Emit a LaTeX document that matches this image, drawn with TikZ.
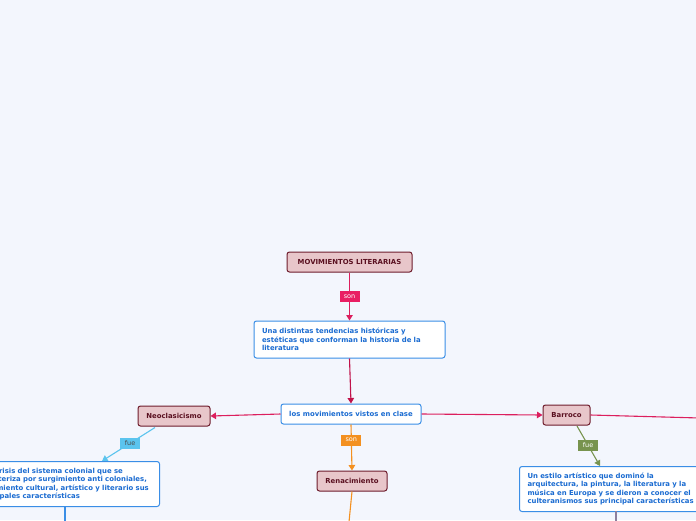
\documentclass[tikz,border=0pt]{standalone}
\usepackage{fontspec}
\setmainfont{DejaVu Sans}
\usetikzlibrary{arrows.meta}
\definecolor{bg}{HTML}{F3F6FD}
\definecolor{pinkfill}{HTML}{E8C6CA}
\definecolor{pinkdraw}{HTML}{6E1C2C}
\definecolor{pinktext}{HTML}{5A1020}
\definecolor{bluedraw}{HTML}{3A8EE6}
\definecolor{bluetext}{HTML}{1A6BD1}
\definecolor{crim}{HTML}{DC1F5E}
\definecolor{crimdark}{HTML}{C0124A}
\definecolor{sonpink}{HTML}{E91E63}
\definecolor{orng}{HTML}{F39020}
\definecolor{lblue}{HTML}{5BC4EE}
\definecolor{grn}{HTML}{77934E}
\definecolor{purp}{HTML}{8C7F9E}
\begin{document}
\begin{tikzpicture}[x=1pt,y=-1pt,
  every node/.style={font=\fontsize{6.9}{8.4}\selectfont\bfseries},
  pinkbox/.style={draw=pinkdraw,fill=pinkfill,text=pinktext,rounded corners=2.5pt,line width=1pt,minimum height=20pt,inner sep=0pt},
  bluebox/.style={draw=bluedraw,fill=white,text=bluetext,rounded corners=2.5pt,line width=1pt,inner sep=0pt},
  desc/.style={bluebox,align=left,inner xsep=8pt,inner ysep=0pt,anchor=north west},
  lab/.style={fill=#1,text=white,inner xsep=2.5pt,inner ysep=1.5pt,minimum height=11pt,minimum width=20pt,font=\fontsize{6.5}{7}\selectfont},
  conn/.style={line width=1.1pt,-{Triangle[length=5.5pt,width=6.5pt]}},
]
\useasboundingbox (0,0) rectangle (696,520);
\clip (0,0) rectangle (696,520);
\fill[bg] (0,0) rectangle (696,520);

\node[pinkbox,minimum width=125pt] (mov) at (349.5,262) {MOVIMIENTOS LITERARIAS};
\node[bluebox,minimum width=191pt,minimum height=37pt,align=left,text width=175pt] (def) at (349.5,339.5)
  {Una distintas tendencias históricas y\\estéticas que conforman la historia de la\\literatura};
\node[bluebox,minimum width=140pt,minimum height=20pt] (vis) at (351,414) {los movimientos vistos en clase};
\node[pinkbox,minimum width=72pt] (neo) at (174,416) {Neoclasicismo};
\node[pinkbox,minimum width=47pt] (bar) at (566.5,415) {Barroco};
\node[pinkbox,minimum width=70pt] (ren) at (352,481) {Renacimiento};

\node[desc,text width=174pt,minimum width=190pt,minimum height=45pt,anchor=north east] (neod) at (160,461)
  {Una crisis del sistema colonial que se\\caracteriza por surgimiento anti coloniales,\\movimiento cultural, artístico y literario sus\\principales características};
\node[desc,text width=190pt,minimum width=206pt,minimum height=45pt] (bard) at (519,466)
  {Un estilo artístico que dominó la\\arquitectura, la pintura, la literatura y la\\música en Europa y se dieron a conocer el\\culteranismos sus principal características};

\coordinate (offr) at (700,418);
\coordinate (renb) at (349,522);
\coordinate (neob) at (65,522);
\coordinate (barb) at (616,522);

\draw[conn,crim] (mov.south) -- node[lab=sonpink]{son} (def.north);
\draw[conn,crimdark] (def.south) -- (vis.north);
\draw[conn,crim] (vis.west) -- (neo.east);
\draw[conn,crim] (vis.east) -- (bar.west);
\draw[crim,line width=1.1pt] (bar.east) -- (offr);
\draw[conn,orng] (vis.south) -- node[lab=orng,pos=0.34]{son} (ren.north);
\draw[orng,line width=1.1pt] (ren.south) -- (renb);
\draw[conn,lblue] (neo.south) ++(-19,1) coordinate (neos) -- node[lab=lblue,text=black!70,pos=0.47]{fue} (102,461) coordinate (neot);
\draw[conn,grn] (577,426) coordinate (bars) -- node[lab=grn,pos=0.48]{fue} (600,466) coordinate (bart);
\draw[bluedraw,line width=1.1pt] (65,506) coordinate (neodb) -- (neob);
\draw[purp,line width=1.1pt] (616,511) coordinate (bardb) -- (barb);
\end{tikzpicture}
\end{document}
